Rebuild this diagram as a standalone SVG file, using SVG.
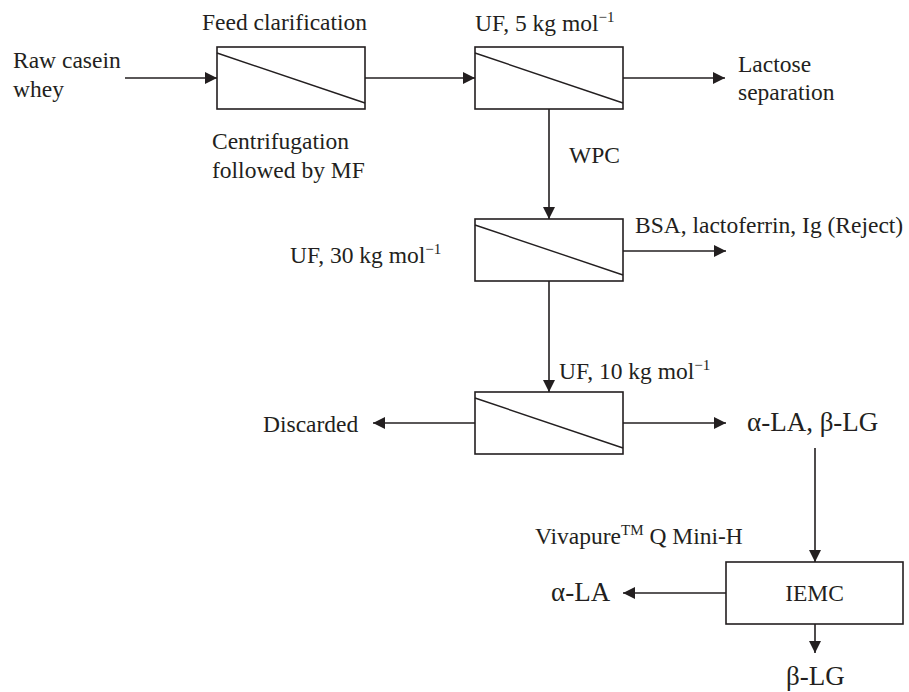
<svg xmlns="http://www.w3.org/2000/svg" width="909" height="692" viewBox="0 0 909 692">
<defs>
<marker id="ah" markerWidth="12" markerHeight="12" viewBox="0 0 12 12" refX="12" refY="6" orient="auto" markerUnits="userSpaceOnUse">
<path d="M0,0 L12,6 L0,12 Z" fill="#231f20"/>
</marker>
<style>
.box{fill:#fff;stroke:#231f20;stroke-width:1.6}
.diag{stroke:#231f20;stroke-width:1.4;fill:none}
.ar{stroke:#231f20;stroke-width:1.6;fill:none;marker-end:url(#ah)}
text{font-family:"Liberation Serif","Times New Roman",serif;font-size:23.5px;fill:#231f20}
.g{font-size:27px}
.sup{font-size:15px}
</style>
</defs>
<rect width="909" height="692" fill="#fff"/>
<g id="connectors">
<line class="ar" x1="125" y1="78" x2="217" y2="78"/>
<line class="ar" x1="365" y1="78" x2="475" y2="78"/>
<line class="ar" x1="623" y1="78" x2="725" y2="78"/>
<line class="ar" x1="549" y1="109" x2="549" y2="219"/>
<line class="ar" x1="623" y1="251" x2="726" y2="251"/>
<line class="ar" x1="549" y1="281" x2="549" y2="392"/>
<line class="ar" x1="476" y1="423" x2="373" y2="423"/>
<line class="ar" x1="623" y1="423" x2="726" y2="423"/>
<line class="ar" x1="815" y1="448" x2="815" y2="562"/>
<line class="ar" x1="726" y1="593" x2="623" y2="593"/>
<line class="ar" x1="815" y1="624" x2="815" y2="653"/>
</g>
<g id="feed-clarification">
<rect class="box" x="217" y="47" width="148" height="62"/>
<line class="diag" x1="217" y1="53" x2="365" y2="103"/>
</g>
<g id="uf5">
<rect class="box" x="475" y="47" width="148" height="62"/>
<line class="diag" x1="475" y1="53" x2="623" y2="103"/>
</g>
<g id="uf30">
<rect class="box" x="475" y="219" width="148" height="62"/>
<line class="diag" x1="475" y1="225" x2="623" y2="275"/>
</g>
<g id="uf10">
<rect class="box" x="475" y="392" width="148" height="62"/>
<line class="diag" x1="475" y1="398" x2="623" y2="448"/>
</g>
<g id="iemc">
<rect class="box" x="726" y="562" width="177" height="62"/>
<text x="814.5" y="601" text-anchor="middle">IEMC</text>
</g>
<g id="labels">
<text x="13" y="68">Raw casein</text>
<text x="13" y="97">whey</text>
<text x="202" y="30">Feed clarification</text>
<text x="212" y="149">Centrifugation</text>
<text x="212" y="178">followed by MF</text>
<text x="475" y="31">UF, 5 kg mol<tspan class="sup" dy="-9">−1</tspan></text>
<text x="738" y="72">Lactose</text>
<text x="738" y="100">separation</text>
<text x="569" y="163">WPC</text>
<text x="635" y="233">BSA, lactoferrin, Ig (Reject)</text>
<text x="290" y="263">UF, 30 kg mol<tspan class="sup" dy="-9">−1</tspan></text>
<text x="559" y="379">UF, 10 kg mol<tspan class="sup" dy="-9">−1</tspan></text>
<text x="263" y="432">Discarded</text>
<text class="g" x="747" y="431">α-LA, β-LG</text>
<text x="535" y="544">Vivapure<tspan class="sup" dy="-9">TM</tspan><tspan dy="9"> Q Mini-H</tspan></text>
<text class="g" x="551" y="601">α-LA</text>
<text class="g" x="786" y="685">β-LG</text>
</g>
</svg>
